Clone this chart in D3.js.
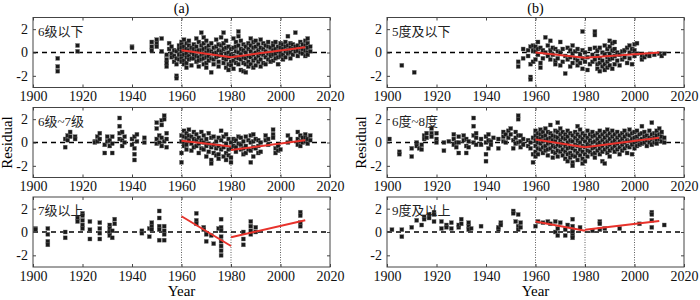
<!DOCTYPE html>
<html>
<head>
<meta charset="utf-8">
<script src="https://cdn.jsdelivr.net/npm/d3@7"></script>
<style>
  body { margin: 0; background: #fff; }
  svg text { font-family: "Liberation Serif", "Noto Sans CJK SC", serif; }
</style>
</head>
<body>
<div id="chart"></div>
<script>
// residual points, grouped as [year, [values...]]
const a1Points = [
  [1910, [-0.5, -1.2, -1.6]], [1918, [0.6, 0.1]], [1940, [0.5, 0.4]],
  [1948, [0.9, 0.2, 0.5]], [1950, [1.1, 0.8, 0.5]], [1952, [1.2, 0.1]],
  [1954, [-0.2, -0.6, -1.2, -0.9]], [1955, [0.8, 0.3]], [1956, [0.5, -0.1, -0.4]],
  [1957, [0.2, -0.3, -0.8]], [1958, [-2.0, -2.2, -0.5, 0.1, -1.0]], [1959, [0.6, 0.3, -0.2, -0.6]],
  [1960, [0.9, 0.7, 0.4, 0.1, -0.3, -0.5, -0.8]], [1961, [1.1, 0.5, 0.2, -0.2, -0.7, -1.0]],
  [1962, [0.8, 0.3, -0.1, -0.4, -0.9, -1.3]], [1963, [1.0, 0.6, 0.2, -0.3, -0.6]],
  [1964, [0.4, 0.0, -0.5, -1.1]], [1965, [0.7, 0.3, -0.2, -0.5]],
  [1966, [1.2, 0.5, 0.1, -0.3, -0.8]], [1967, [0.9, 0.2, -0.4, -0.7, -1.2]],
  [1968, [1.7, 0.6, 0.2, -0.2, -0.6]], [1969, [1.3, 0.8, 0.3, -0.1, -0.5, -1.0]],
  [1970, [1.0, 0.4, 0.0, -0.4, -0.9, -1.3]], [1971, [0.6, 0.2, -0.3, -0.7]],
  [1972, [0.8, 0.1, -0.5, -1.7]], [1973, [0.4, -0.1, -0.6, -1.0]],
  [1974, [1.1, 0.5, 0.0, -0.4]], [1975, [0.7, 0.2, -0.3, -0.8, -1.2]],
  [1976, [1.3, 0.6, 0.1, -0.2]], [1977, [1.7, 0.8, 0.3, -0.5, -0.9]],
  [1978, [1.0, 0.4, -0.1, -0.6, -1.3]], [1979, [0.5, 0.0, -0.4, -1.0, -1.5]],
  [1980, [0.3, -0.2, -0.8, -1.1]], [1981, [1.2, 0.4, -0.3, -0.7, -1.4]],
  [1982, [0.9, 0.5, 0.1, -0.4, -0.9]], [1983, [1.8, 1.4, 0.6, 0.0, -0.5, -1.0]],
  [1984, [1.0, 0.3, -0.2, -0.6, -1.5]], [1985, [0.7, 0.2, -0.4, -0.9, -1.6]],
  [1986, [0.5, 0.0, -0.5, -1.0, -1.7]], [1987, [0.8, 0.3, -0.3, -0.8, -1.2]],
  [1988, [1.2, 0.6, 0.1, -0.4, -1.0]], [1989, [0.9, 0.4, -0.2, -0.7, -1.3]],
  [1990, [1.0, 0.5, 0.0, -0.5, -1.1]], [1991, [0.7, 0.2, -0.3, -0.8]],
  [1992, [1.1, 0.4, -0.1, -0.6, -1.2]], [1993, [0.8, 0.3, -0.2, -0.9]],
  [1994, [0.6, 0.1, -0.4, -1.0]], [1995, [0.9, 0.5, -0.1, -0.6]],
  [1996, [0.4, 0.0, -0.3, -0.8]], [1997, [0.8, 0.6, 0.2, -0.2, -0.7]],
  [1998, [0.9, 0.3, -0.1, -0.5]], [1999, [0.5, 0.1, -0.4, -1.0]],
  [2000, [0.8, 0.4, 0.0, -0.3]], [2001, [0.7, 0.3, -0.2, -0.6]],
  [2002, [0.9, 0.5, 0.1, -0.4]], [2003, [1.4, 0.6, 0.2, -0.1]],
  [2004, [0.8, 0.4, 0.0, -0.5]], [2005, [0.7, 0.3, -0.2]], [2006, [1.7, 0.5, 0.1]],
  [2007, [0.6, 0.2, -0.3]], [2008, [0.9, 0.4, 0.0]], [2009, [0.7, 0.3, -0.1]],
  [2010, [1.0, 0.6, 0.2, -0.3]], [2011, [1.2, 0.8, 0.4, 0.0, -0.2]], [2012, [0.5, 0.1]]
];

const a2Points = [
  [1913, [0.3, -0.4]], [1914, [0.6, 0.2]], [1915, [0.9, 0.5]], [1917, [0.5, 0.3]],
  [1925, [0.1, 0.0]], [1926, [0.5, 0.1]], [1927, [0.8, 0.3]], [1929, [-0.2, -0.9]],
  [1930, [0.5, 0.1]], [1931, [0.2, -0.3]], [1932, [0.5, -0.1, -0.9]],
  [1935, [2.1, 1.4, 0.8, 0.3]], [1936, [0.9, 0.2, -0.3]], [1937, [0.5, 0.0]],
  [1940, [0.3, -0.2]], [1941, [0.5, -0.5, -1.0, -1.5]], [1942, [0.7, 0.1]], [1945, [0.4, 0.0]],
  [1950, [1.7, 1.2, 0.3, -0.1]], [1951, [0.6, 0.0]], [1952, [1.9, 1.5, 0.4, -0.3]],
  [1953, [2.3, 2.0, 0.1]], [1954, [0.8, 0.3, -0.4]],
  [1960, [0.6, 0.1, -0.9, -1.7]], [1961, [1.0, 0.5, 0.0, -0.3]], [1962, [0.8, 0.4, -0.2, -0.6]],
  [1963, [1.1, 0.6, 0.2]], [1964, [0.5, -0.1, -0.7]], [1965, [0.9, 0.3, -0.4]],
  [1966, [0.7, 0.2, -0.3]], [1967, [0.4, -0.1, -0.9]], [1968, [0.9, 0.2, -0.5]],
  [1969, [0.6, 0.0, -0.6]], [1970, [0.3, -0.3, -1.2]], [1971, [0.8, -0.1, -0.8]],
  [1972, [0.4, -0.4, -1.5, -1.8]], [1973, [0.5, -0.2, -0.9]], [1974, [0.1, -0.5, -1.1]],
  [1975, [0.4, -0.3, -1.0, -1.4]], [1976, [1.0, 0.2, -0.6]], [1977, [0.5, -0.4, -1.2]],
  [1978, [0.7, -0.1, -0.9, -1.5]], [1979, [0.3, -0.6, -1.1]], [1980, [0.0, -0.5, -1.3, -1.7]],
  [1981, [0.3, -0.3]], [1982, [0.2, -0.4, -0.8]], [1983, [0.5, -0.1]],
  [1984, [0.4, -0.2, -0.6]], [1985, [0.1, -0.5, -1.0]], [1986, [0.5, -0.3, -0.9]],
  [1987, [0.2, -0.6]], [1988, [0.6, 0.0, -0.7, -1.7]], [1989, [0.7, 0.1, -0.4, -1.2]],
  [1990, [0.3, -0.5]], [1991, [0.2, -0.3, -0.9]], [1992, [0.0, -0.8]],
  [1994, [0.6, 0.2]], [1995, [0.3, -0.2]], [1997, [1.1, 0.7, 0.4]],
  [1998, [-0.5, -0.9]], [1999, [-0.3, -0.7]], [2000, [-0.6]],
  [2003, [0.6, 0.0]], [2004, [0.3]], [2007, [0.9, 0.3, -0.2]], [2008, [0.6, 0.1, -0.3]],
  [2009, [0.4, 0.0]], [2010, [0.7, 0.4, 0.1]], [2011, [0.3, -0.1]], [2012, [0.6, 0.2]]
];

const a3Points = [
  [1901, [0.3, 0.2]], [1906, [0.3, -0.2, -0.8, -1.1]], [1913, [0.0, -0.5]],
  [1918, [1.2, 0.9]], [1920, [1.6, 1.4, 1.0, 0.6, 0.3]], [1923, [0.9, 0.2, -0.6]],
  [1927, [0.8, 0.3, -0.1, -0.6]], [1931, [0.6, 0.3, 0.0, -0.3]], [1932, [-0.5, 0.1]],
  [1933, [1.1, 0.7]], [1944, [0.1, -0.1]], [1947, [0.3, -0.4]], [1948, [0.8, 0.5, 0.2]],
  [1951, [1.8, 1.2, 0.5, 0.2, -0.7]], [1953, [0.5, 0.1, -0.2, -0.7]],
  [1966, [1.6, 1.0, 0.7]], [1969, [0.4, 0.2]], [1970, [-0.2, -0.8]], [1972, [-0.3]],
  [1973, [-1.0]], [1975, [0.3]], [1976, [1.1, 0.4, 0.1, -0.4, -0.8, -1.2, -1.6, -2.0]],
  [1985, [0.0, -0.6, -1.1]], [1988, [0.9, 0.5, 0.1, -0.2]], [1990, [0.4, 0.0]],
  [2008, [1.7, 1.4, 0.8, 0.5]]
];

const b1Points = [
  [1906, [-1.1]], [1911, [-1.7]], [1953, [-0.8, -1.2]], [1955, [0.3, -0.5]],
  [1957, [0.2, -0.3]], [1958, [-1.0, -2.1, -2.3, 0.5]], [1959, [0.6, 0.2, -0.8]],
  [1960, [0.5, 0.1, -0.6]], [1961, [0.9, 0.3, -0.2]], [1962, [0.4, -0.9, -1.3]],
  [1963, [0.2, -0.5]], [1964, [1.3, 0.0]], [1965, [0.6, -0.3]], [1966, [1.0, 0.2, -0.6]],
  [1967, [0.4, -0.2]], [1968, [0.3, -0.7, -1.0]], [1969, [0.1, -0.5]],
  [1970, [0.9, 0.0, -1.1]], [1971, [0.3, -0.8]], [1972, [-0.3, -1.8]], [1973, [0.4, -0.6]],
  [1974, [0.2, -0.4, -1.2]], [1975, [0.6, -0.1, -0.9]], [1976, [0.1, -0.5]],
  [1977, [0.3, -0.7, -1.1]], [1978, [-0.2, -0.9]], [1979, [1.8, 0.2, -0.5, -1.4]],
  [1980, [0.0, -0.8]], [1981, [-1.5, -0.4]], [1982, [0.3, -1.0]], [1983, [-0.2, -0.8]],
  [1984, [1.8, 1.5, 0.4, -0.6]], [1985, [0.2, -0.3, -1.0, -1.4]],
  [1986, [0.4, -0.5, -0.9, -1.6]], [1987, [0.0, -0.7, -1.2]],
  [1988, [0.6, -0.2, -1.0, -1.5]], [1989, [0.3, -0.4, -0.8, -1.3]],
  [1990, [1.0, 0.5, -0.1, -0.6, -1.1]], [1991, [0.8, 0.2, -0.5, -1.4]],
  [1992, [0.9, 0.3, -0.3, -1.0]], [1993, [0.0, -0.7]], [1994, [-0.2, -1.1]],
  [1995, [0.1, -0.6]], [1996, [0.2, -0.4]], [1997, [0.4, -0.9]], [1998, [0.6, 0.0, -0.5]],
  [1999, [0.3, -1.0]], [2000, [0.7, 0.2, -0.3]], [2001, [0.8, -0.1]],
  [2003, [-0.3, -0.6]], [2004, [-0.4]], [2005, [-0.2]], [2006, [-0.3]],
  [2008, [-0.2]], [2010, [-0.1]], [2011, [-0.3]], [2012, [-0.1]]
];

const b2Points = [
  [1901, [0.3]], [1905, [-0.8, -1.0]], [1910, [-1.2, -0.5]], [1912, [0.0, -0.3]],
  [1913, [-0.5]], [1914, [-0.2, -0.6]], [1915, [0.6, 0.3]], [1916, [0.8, 0.4]],
  [1918, [1.2, 0.8, 0.5]], [1920, [0.8, 0.3, 0.0]], [1923, [0.0, -0.7]], [1925, [0.1]],
  [1927, [0.7, 0.3, -0.2]], [1928, [-0.4, 0.0]], [1929, [0.5, 0.0, -0.9]], [1931, [0.6, 0.2]],
  [1932, [0.3, -0.3, -0.9]], [1933, [0.1, -0.4]], [1935, [2.1, 1.4, 0.6, 0.0]],
  [1936, [0.8, 0.4, -0.2]], [1938, [0.3, -0.2]], [1940, [0.5, 0.0, -1.0, -1.6]],
  [1941, [0.7, 0.2, -0.5]], [1942, [0.1, -0.2]], [1943, [0.4]], [1945, [0.3, -0.5]],
  [1947, [0.9, 0.5, 0.1]], [1948, [0.7, 0.0]], [1949, [1.0, 0.4]], [1950, [1.2, 0.7]],
  [1951, [0.2, -0.5]], [1952, [0.9, 0.4, -0.1]], [1953, [2.3, 2.0, 0.6, 0.0]],
  [1954, [0.6, 0.1, -0.4]], [1955, [0.3, -0.2]], [1957, [0.2, -0.3]], [1958, [0.0, -0.5]],
  [1959, [-1.0, -1.7, 0.4]],
  [1960, [1.0, 0.6, 0.2, -0.3, -0.8, -1.2]], [1961, [0.8, 0.4, 0.0, -0.5, -1.0]],
  [1962, [1.1, 0.7, 0.3, -0.1, -0.6]], [1963, [0.9, 0.5, 0.1, -0.4, -0.9]],
  [1964, [1.2, 0.6, 0.2, -0.3, -0.7]], [1965, [0.9, 0.3, -0.1, -0.6, -1.1]],
  [1966, [1.5, 0.8, 0.4, 0.0, -0.5]], [1967, [0.6, 0.2, -0.3, -0.8, -1.3]],
  [1968, [1.0, 0.5, 0.1, -0.4, -0.9]], [1969, [1.7, 0.9, 0.4, -0.2, -0.7, -1.2]],
  [1970, [1.2, 0.7, 0.2, -0.3, -0.8]], [1971, [0.9, 0.4, -0.1, -0.6, -1.1]],
  [1972, [0.7, 0.3, -0.3, -0.8, -1.4]], [1973, [1.0, 0.5, 0.0, -0.5, -1.0, -1.6]],
  [1974, [0.8, 0.2, -0.4, -0.9, -1.3]], [1975, [0.6, 0.1, -0.5, -1.1, -1.7, -2.0]],
  [1976, [0.9, 0.4, -0.2, -0.7, -1.2]], [1977, [1.4, 0.7, 0.2, -0.3, -0.9, -1.5]],
  [1978, [1.1, 0.5, 0.0, -0.6, -1.1]], [1979, [0.8, 0.3, -0.3, -0.8, -1.4, -1.8]],
  [1980, [0.6, 0.1, -0.4, -1.0, -1.6]], [1981, [1.0, 0.4, -0.2, -0.7, -1.2]],
  [1982, [0.7, 0.2, -0.3, -0.8]], [1983, [0.9, 0.5, 0.0, -0.5, -1.0]],
  [1984, [0.6, 0.1, -0.4, -0.9, -1.3]], [1985, [0.8, 0.3, -0.2, -0.7]],
  [1986, [1.0, 0.5, 0.0, -0.5, -1.0]], [1987, [0.7, 0.2, -0.3, -0.8, -1.6]],
  [1988, [0.9, 0.4, -0.1, -0.6, -1.8]], [1989, [1.1, 0.6, 0.1, -0.4, -0.9]],
  [1990, [0.8, 0.3, -0.2, -0.7, -1.2]], [1991, [1.0, 0.5, 0.0, -0.5]],
  [1992, [0.7, 0.2, -0.3, -0.8]], [1993, [0.9, 0.4, -0.1, -0.6]],
  [1994, [0.6, 0.1, -0.4, -1.0]], [1995, [0.8, 0.3, -0.2, -0.7]],
  [1996, [1.0, 0.5, 0.0, -0.5]], [1997, [0.7, 0.2, -0.3, -0.9]],
  [1998, [1.1, 0.6, 0.1, -0.4]], [1999, [0.8, 0.3, -0.2, -1.0]],
  [2000, [0.9, 0.4, 0.0, -0.5]], [2001, [1.0, 0.5, 0.1, -0.3]], [2002, [0.7, 0.2, -0.2]],
  [2003, [1.4, 0.8, 0.3, -0.1]], [2004, [0.9, 0.5, 0.0]], [2005, [0.6, 0.2, -0.3]],
  [2006, [1.0, 0.4, 0.0]], [2007, [1.7, 0.7, 0.3, -0.2]], [2008, [0.8, 0.4, 0.0]],
  [2009, [1.0, 0.6, 0.2, -0.1]], [2010, [1.2, 0.7, 0.3]], [2011, [0.9, 0.5, 0.1]],
  [2012, [0.4, 0.0]]
];

const b3Points = [
  [1902, [0.2]], [1906, [0.2, -0.4]], [1910, [0.4]], [1912, [1.0]], [1914, [0.6]],
  [1915, [1.3, 1.1]], [1917, [1.5, 1.2]], [1919, [1.7, 1.5, 0.9]], [1922, [0.9, 0.3]],
  [1924, [0.6, 0.4]], [1926, [0.8, 0.3]], [1929, [0.4, 0.6]], [1930, [1.1, 0.7]],
  [1933, [0.8, 0.5, 0.2]], [1934, [0.3]], [1938, [0.5]], [1945, [0.2, 0.4]],
  [1946, [0.8, 0.6]], [1951, [1.8, 1.6]], [1952, [0.9]], [1953, [1.5, 0.5, 0.2]],
  [1954, [0.8, 0.4]], [1960, [0.5]], [1961, [0.9]], [1963, [0.8]], [1965, [0.9]],
  [1966, [0.7]], [1968, [0.9, 0.0]], [1969, [0.3, -0.3]], [1970, [0.8]],
  [1972, [0.2, -0.3]], [1973, [0.6]], [1975, [1.1, 0.5, 0.2, 0.0, -0.3, -0.5]],
  [1978, [0.4]], [1983, [0.1]], [1986, [0.9, 0.7, 0.2]], [1988, [0.3]], [1994, [0.3]],
  [2002, [0.7]], [2007, [1.7, 1.5, 1.0, 0.4]], [2012, [0.6]]
];

// fitted trend segments: [year, residual] endpoints
const a1Trend = [[[1960, 0.2], [1980, -0.4]], [[1980, -0.4], [2010, 0.45]]];
const a2Trend = [[[1960, 0.15], [1980, -0.35]], [[1980, -0.65], [2010, 0.2]]];
const a3Trend = [[[1960, 1.35], [1980, -1.2]], [[1980, -0.45], [2010, 1.0]]];
const b1Trend = [[[1960, 0.0], [1980, -0.45]], [[1980, -0.45], [2010, 0.0]]];
const b2Trend = [[[1960, 0.25], [1980, -0.4]], [[1980, -0.4], [2010, 0.4]]];
const b3Trend = [[[1960, 0.9], [1980, 0.1]], [[1980, 0.2], [2010, 0.95]]];

const xTicks = [1900, 1920, 1940, 1960, 1980, 2000, 2020];
const yTicks = [-2, 0, 2];
const dividerYears = [1960, 1980, 2000];
const columnTitles = ["(a)", "(b)"];

const panels = [
  { col: 0, row: 0, label: "6级以下", points: a1Points, trend: a1Trend },
  { col: 0, row: 1, label: "6级~7级", points: a2Points, trend: a2Trend },
  { col: 0, row: 2, label: "7级以上", points: a3Points, trend: a3Trend },
  { col: 1, row: 0, label: "5度及以下", points: b1Points, trend: b1Trend },
  { col: 1, row: 1, label: "6度~8度", points: b2Points, trend: b2Trend },
  { col: 1, row: 2, label: "9度及以上", points: b3Points, trend: b3Trend }
];

const width = 700, height = 300;
const colLeft = [33, 387];
const rowTop = [17.5, 107.5, 197];
const pw = 297, ph = 70;

const svg = d3.select("#chart").append("svg")
  .attr("width", width)
  .attr("height", height);

const x = d3.scaleLinear().domain([1900, 2020]).range([0, pw]);
const y = d3.scaleLinear().domain([-3, 3]).range([ph, 0]);

panels.forEach(p => {
  const g = svg.append("g")
    .attr("transform", `translate(${colLeft[p.col]},${rowTop[p.row]})`);

  // dotted period dividers
  g.selectAll(".divider")
    .data(dividerYears)
    .join("line")
      .attr("x1", d => x(d)).attr("x2", d => x(d))
      .attr("y1", 0).attr("y2", ph)
      .attr("stroke", "#333")
      .attr("stroke-width", 0.8)
      .attr("stroke-dasharray", "1,1.5");

  // zero line
  g.append("line")
    .attr("x1", 0).attr("x2", pw)
    .attr("y1", y(0)).attr("y2", y(0))
    .attr("stroke", "#000")
    .attr("stroke-width", 1.6)
    .attr("stroke-dasharray", "5,4");

  const pts = p.points.flatMap(([yr, vals]) => vals.map(v => ({ yr, v })));
  g.selectAll(".pt")
    .data(pts)
    .join("rect")
      .attr("x", d => x(d.yr) - 2)
      .attr("y", d => y(d.v) - 2)
      .attr("width", 4)
      .attr("height", 4)
      .attr("fill", "#1a1a1a")
      .attr("stroke", "#777")
      .attr("stroke-width", 0.4);

  g.selectAll(".trend")
    .data(p.trend)
    .join("path")
      .attr("d", d3.line().x(d => x(d[0])).y(d => y(d[1])))
      .attr("fill", "none")
      .attr("stroke", "#e8322b")
      .attr("stroke-width", 2);

  // axes, MATLAB style with ticks inside on all four sides
  const bottom = g.append("g").attr("transform", `translate(0,${ph})`)
    .call(d3.axisBottom(x).tickValues(xTicks).tickSizeInner(-3).tickSizeOuter(0).tickPadding(4).tickFormat(d => String(d)));
  const top = g.append("g")
    .call(d3.axisTop(x).tickValues(xTicks).tickSizeInner(-3).tickSizeOuter(0).tickFormat(""));
  const left = g.append("g")
    .call(d3.axisLeft(y).tickValues(yTicks).tickSizeInner(-3).tickSizeOuter(0).tickPadding(5).tickFormat(d => String(d)));
  const right = g.append("g").attr("transform", `translate(${pw},0)`)
    .call(d3.axisRight(y).tickValues(yTicks).tickSizeInner(-3).tickSizeOuter(0).tickFormat(""));

  [bottom, top, left, right].forEach(ax => {
    ax.select(".domain").remove();
    ax.selectAll("line").attr("stroke", "#444");
    ax.selectAll("text").attr("font-size", 14).attr("fill", "#111")
      .attr("font-family", "Liberation Serif");
  });

  g.append("rect")
    .attr("width", pw).attr("height", ph)
    .attr("fill", "none")
    .attr("stroke", "#444")
    .attr("stroke-width", 1);

  g.append("text")
    .attr("x", 5).attr("y", 18)
    .attr("font-size", 13)
    .attr("fill", "#222")
    .attr("font-family", "Liberation Serif, Noto Sans CJK SC")
    .text(p.label);

  if (p.row === 1) {
    g.append("text")
      .attr("transform", `translate(-21,${ph / 2}) rotate(-90)`)
      .attr("text-anchor", "middle")
      .attr("font-size", 15)
      .text("Residual");
  }
  if (p.row === 2) {
    g.append("text")
      .attr("x", pw / 2).attr("y", ph + 29)
      .attr("text-anchor", "middle")
      .attr("font-size", 15)
      .text("Year");
  }
  if (p.row === 0) {
    g.append("text")
      .attr("x", pw / 2).attr("y", -5)
      .attr("text-anchor", "middle")
      .attr("font-size", 14)
      .text(columnTitles[p.col]);
  }
});
</script>
</body>
</html>
